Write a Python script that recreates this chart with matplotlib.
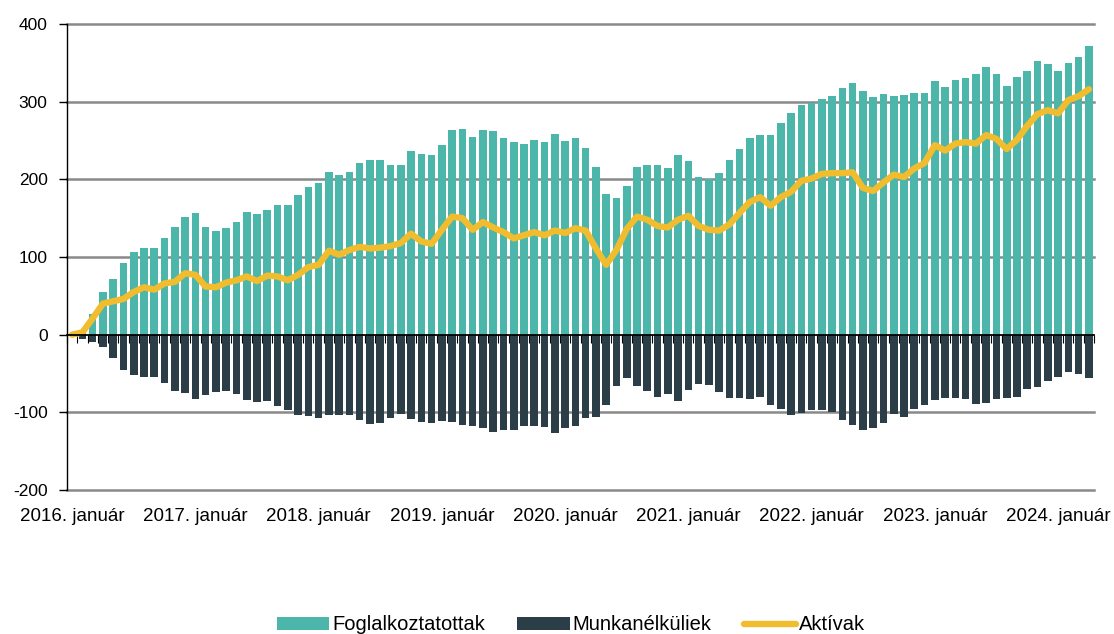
import numpy as np
import matplotlib
matplotlib.use('Agg')
import matplotlib.pyplot as plt

# Monthly values, 2016. január - 2024. április (change vs. base, thousands)
foglalkoztatottak = [
    1, 6, 27, 55, 72, 92, 106, 112, 111, 125, 138, 151,
    157, 138, 134, 137, 145, 158, 156, 160, 167, 167, 180, 190,
    195, 209, 205, 210, 221, 225, 225, 219, 219, 236, 232, 231,
    244, 263, 265, 255, 264, 262, 253, 248, 246, 250, 248, 259,
    249, 253, 240, 216, 181, 176, 191, 216, 219, 218, 215, 231,
    223, 203, 200, 208, 225, 239, 253, 257, 257, 272, 285, 296,
    298, 303, 307, 317, 324, 314, 306, 310, 307, 309, 311, 311,
    327, 319, 328, 330, 335, 344, 335, 320, 332, 340, 352, 349,
    340, 350, 357, 372,
]
munkanelkuliek = [
    -1, -5, -9, -16, -30, -46, -52, -54, -54, -62, -73, -75,
    -83, -78, -74, -72, -77, -84, -87, -85, -92, -97, -103, -105,
    -107, -103, -103, -104, -110, -115, -114, -107, -102, -108, -112, -114,
    -111, -113, -116, -118, -120, -125, -123, -123, -118, -118, -119, -127,
    -120, -117, -107, -106, -90, -66, -56, -66, -73, -80, -77, -85,
    -71, -64, -65, -74, -82, -82, -83, -80, -91, -96, -103, -101,
    -97, -97, -100, -110, -116, -123, -120, -114, -102, -106, -96, -91,
    -84, -82, -82, -83, -89, -88, -83, -81, -80, -70, -68, -60,
    -55, -48, -51, -56,
]
aktivak = [
    0, 3, 21, 40, 43, 46, 55, 61, 58, 66, 68, 79,
    77, 62, 61, 67, 70, 75, 69, 76, 75, 70, 77, 87,
    90, 108, 103, 109, 113, 111, 112, 114, 118, 130, 120, 117,
    135, 152, 150, 135, 145, 138, 132, 124, 128, 132, 128, 134,
    131, 137, 134, 111, 90, 109, 136, 152, 148, 140, 138, 148,
    153, 140, 135, 134, 142, 157, 171, 177, 166, 177, 184, 198,
    201, 207, 208, 208, 209, 189, 185, 196, 206, 203, 214, 221,
    244, 237, 246, 248, 246, 257, 252, 239, 251, 269, 284, 289,
    285, 302, 307, 316,
]
year_labels = ['2016. január', '2017. január', '2018. január', '2019. január',
               '2020. január', '2021. január', '2022. január', '2023. január',
               '2024. január']

teal = '#4DB6AA'
dark = '#2B3D47'
yellow = '#F1BC2E'
grid_gray = '#898989'

plt.rcParams['font.family'] = ['Liberation Sans', 'DejaVu Sans']
plt.rcParams['axes.unicode_minus'] = False

fig = plt.figure(figsize=(11.14, 6.34), dpi=100)
ax = fig.add_axes([67 / 1114, 1 - 490 / 634, (1094 - 67) / 1114, (490 - 24) / 634])

x = np.arange(len(foglalkoztatottak))
b1 = ax.bar(x, foglalkoztatottak, width=0.74, color=teal, label='Foglalkoztatottak', zorder=2)
b2 = ax.bar(x, munkanelkuliek, width=0.74, color=dark, label='Munkanélküliek', zorder=2)
l1, = ax.plot(x, aktivak, color=yellow, lw=4.6, solid_joinstyle='round',
              solid_capstyle='round', label='Aktívak', zorder=3)

ax.set_xlim(-0.5, len(x) - 0.5)
ax.set_ylim(-200, 400)
yticks = list(range(-200, 401, 100))
ax.set_yticks(yticks)
# horizontal gridlines (edges included)
for yv in yticks:
    if yv != 0:
        ax.axhline(yv, color=grid_gray, lw=1.8, zorder=0, clip_on=False)
ax.tick_params(axis='y', length=6, width=1, pad=8, labelsize=12.5, colors='black')

for s in ['top', 'right']:
    ax.spines[s].set_visible(False)
ax.spines['left'].set_color('black')
ax.spines['left'].set_linewidth(1)
ax.spines['bottom'].set_position(('data', 0))
ax.spines['bottom'].set_color('black')
ax.spines['bottom'].set_linewidth(1.3)
ax.spines['bottom'].set_zorder(4)

# zero axis: month boundary ticks only
ax.set_xticks(np.arange(len(x) + 1) - 0.5, minor=True)
ax.set_xticks([])
ax.tick_params(axis='x', which='minor', length=6, width=0.8, direction='out', color='black')

# year labels at the bottom of the plot area
sec = ax.secondary_xaxis(0.0)
sec.set_xticks(np.arange(0, len(x), 12))
sec.set_xticklabels(year_labels)
sec.tick_params(length=0, pad=13, labelsize=13.5)
sec.spines['bottom'].set_visible(False)

fig.legend(handles=[b1, b2, l1], loc='center', bbox_to_anchor=(571 / 1114, 1 - 625 / 634),
           ncol=3, frameon=False, fontsize=14.5, handlelength=2.6, handletextpad=0.15,
           columnspacing=1.6, handleheight=0.6)

fig.savefig('out.png', dpi=100)
